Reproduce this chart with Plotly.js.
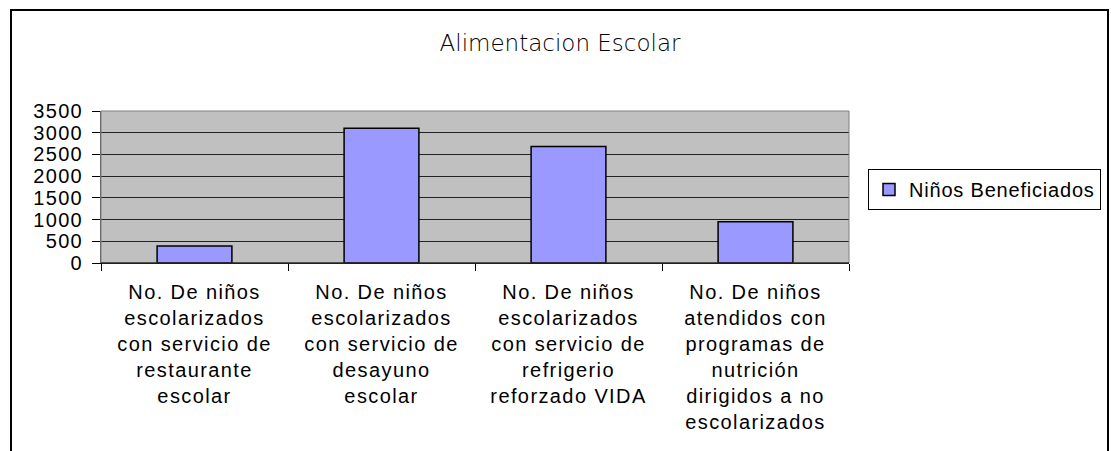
<!DOCTYPE html>
<html>
<head>
<meta charset="utf-8">
<script src="https://cdn.plot.ly/plotly-3.0.1.min.js"></script>
<style>
  html, body { margin: 0; padding: 0; background: #fff; }
  #chart { width: 1111px; height: 451px; }
  .xtick text { letter-spacing: 1.4px; }
  .ytick text { letter-spacing: 1.3px; }
  text.legendtext { letter-spacing: 0.8px; }
</style>
</head>
<body>
<div id="chart"></div>
<script>
const categories = [
  "No. De niños<br>escolarizados<br>con servicio de<br>restaurante<br>escolar",
  "No. De niños<br>escolarizados<br>con servicio de<br>desayuno<br>escolar",
  "No. De niños<br>escolarizados<br>con servicio de<br>refrigerio<br>reforzado VIDA",
  "No. De niños<br>atendidos con<br>programas de<br>nutrición<br>dirigidos a no<br>escolarizados"
];
const beneficiados = [390, 3100, 2680, 950];
const seriesName = "Niños Beneficiados";
const chartTitle = "Alimentacion Escolar";
const yTicks = [0, 500, 1000, 1500, 2000, 2500, 3000, 3500];

const W = 1111, H = 451;
const plotL = 101, plotR = 849, plotT = 111, plotB = 263;
const pw = plotR - plotL, ph = plotB - plotT;
const px = v => (v - plotL) / pw;
const py = v => (plotB - v) / ph;

const trace = {
  type: "bar",
  x: categories,
  y: beneficiados,
  name: seriesName,
  width: 0.4,
  marker: { color: "#9999ff", line: { color: "#000000", width: 1.5 } },
  showlegend: true,
  hoverinfo: "x+y"
};

const layout = {
  width: W, height: H,
  margin: { l: plotL, r: W - plotR, t: plotT, b: H - plotB, pad: 0, autoexpand: false },
  paper_bgcolor: "#ffffff",
  plot_bgcolor: "#c0c0c0",
  font: { family: "Liberation Sans, Arial, sans-serif", color: "#000", size: 20 },
  title: {
    text: chartTitle,
    font: { family: "DejaVu Sans, sans-serif", size: 23, color: "#000", weight: 200 },
    xref: "container", yref: "container",
    x: 560 / W, y: 1 - 43 / H, xanchor: "center", yanchor: "middle"
  },
  showlegend: true,
  legend: {
    x: px(868), y: py(169), xanchor: "left", yanchor: "top",
    bordercolor: "#000", borderwidth: 1, bgcolor: "#fff",
    font: { size: 20, family: "Liberation Sans, Arial, sans-serif" }
  },
  xaxis: {
    type: "category",
    tickson: "boundaries",
    ticks: "outside", ticklen: 7, tickcolor: "#000", tickwidth: 1,
    ticklabelstandoff: 11,
    showline: true, linecolor: "#000", linewidth: 1,
    showgrid: false, zeroline: false,
    tickangle: 0,
    tickfont: { size: 20 },
    fixedrange: true
  },
  yaxis: {
    range: [0, 3500],
    tickvals: yTicks,
    ticktext: yTicks.map(String),
    ticks: "outside", ticklen: 8, tickcolor: "#000", tickwidth: 1,
    ticklabelstandoff: 5,
    showline: true, linecolor: "#555", linewidth: 1,
    showgrid: true, gridcolor: "#222", gridwidth: 1,
    zeroline: false,
    tickfont: { size: 20 },
    fixedrange: true
  },
  shapes: [
    { type: "rect", xref: "paper", yref: "paper", x0: 0, x1: 1, y0: 0, y1: 1,
      line: { color: "#808080", width: 1 }, layer: "above" },
    { type: "line", xref: "paper", yref: "paper", x0: 0, x1: 1, y0: 0, y1: 0,
      line: { color: "#000", width: 1 }, layer: "above" },
    { type: "rect", xref: "paper", yref: "paper",
      x0: px(11), x1: px(1108), y0: py(10), y1: py(480),
      line: { color: "#000", width: 2 }, layer: "below" }
  ]
};

Plotly.newPlot("chart", [trace], layout, { displayModeBar: false, staticPlot: true });
</script>
</body>
</html>
